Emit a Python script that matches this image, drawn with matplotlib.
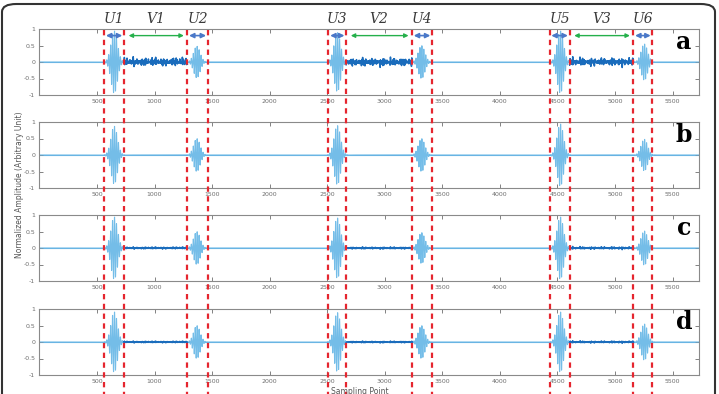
import numpy as np
import matplotlib
matplotlib.use("Agg")
import matplotlib.pyplot as plt
import matplotlib.transforms as mtransforms
from matplotlib.patches import FancyBboxPatch
from matplotlib.lines import Line2D

# ---------------- data ----------------
x_max = 5730
x_ticks = [500, 1000, 1500, 2000, 2500, 3000, 3500, 4000, 4500, 5000, 5500]
y_ticks = [-1, -0.5, 0, 0.5, 1]
y_tick_labels = ["-1", "-0.5", "0", "0.5", "1"]

u_labels = ["U1", "U2", "U3", "U4", "U5", "U6"]
u_left = [563, 1285, 2511, 3237, 4432, 5160]
u_right = [735, 1463, 2665, 3411, 4606, 5325]
v_labels = ["V1", "V2", "V3"]

burst_centers = [650, 1368, 2588, 3320, 4525, 5255]
amps_a = [0.95, 0.48, 0.9, 0.5, 0.95, 0.55]
amps_b = [0.88, 0.5, 0.9, 0.5, 0.95, 0.48]
amps_c = [0.95, 0.5, 0.92, 0.47, 0.95, 0.52]
amps_d = [0.92, 0.5, 0.9, 0.5, 0.92, 0.55]
noise_a = [0.13, 0.13, 0.12]
noise_b = [0.0, 0.0, 0.0]
noise_c = [0.03, 0.03, 0.035]
noise_d = [0.025, 0.025, 0.028]
panel_letters = ["a", "b", "c", "d"]

# ---------------- figure ----------------
fig = plt.figure(figsize=(7.19, 3.94), dpi=100)
n = np.arange(0, x_max)

light = "#74bde8"
base = "#5aa9dd"
dark = "#1a6cbc"
grey = "#6e6e6e"

left = 39.4 / 719
width = (699 - 39.4) / 719
tops = [29, 122, 215, 309]
h = 66


def make_signal(amps):
    s = np.zeros_like(n, dtype=float)
    for c, a in zip(burst_centers, amps):
        env = np.exp(-((n - c) / 40.0) ** 2)
        s += a * env * np.sin(2 * np.pi * (n - c) / 17.0 + 0.6)
    return s


def make_noise(levels):
    z = np.zeros_like(n, dtype=float)
    freqs = [0.0371, 0.0613, 0.0917, 0.1289, 0.1731, 0.2203]
    phases = [0.3, 1.7, 2.9, 0.8, 2.2, 4.1]
    tex = sum(np.sin(2 * np.pi * f * n + p) for f, p in zip(freqs, phases)) / 3.0
    slow = 0.25 + 0.75 * np.abs(np.sin(2 * np.pi * n / 173.0) * np.cos(2 * np.pi * n / 61.0))
    for k, lev in enumerate(levels):
        lo, hi = u_right[2 * k], u_left[2 * k + 1]
        m = (n >= lo) & (n <= hi)
        z[m] = lev * tex[m] * slow[m]
    return z


amps_all = [amps_a, amps_b, amps_c, amps_d]
noise_all = [noise_a, noise_b, noise_c, noise_d]
axes = []
for i in range(4):
    ax = fig.add_axes([left, 1 - (tops[i] + h) / 394, width, h / 394])
    axes.append(ax)
    sig = make_signal(amps_all[i])
    ax.plot(n, sig, color=light, lw=0.8)
    ax.axhline(0, color=base, lw=0.8, zorder=1)
    nz = make_noise(noise_all[i])
    if max(noise_all[i]) > 0:
        for k in range(3):
            lo, hi = u_right[2 * k], u_left[2 * k + 1]
            m = (n >= lo) & (n <= hi)
            ax.plot(n[m], nz[m], color=dark, lw=1.1)
    ax.set_xlim(0, x_max)
    ax.set_ylim(-1, 1)
    ax.set_xticks(x_ticks)
    ax.set_xticklabels([str(t) for t in x_ticks])
    ax.set_yticks(y_ticks)
    ax.set_yticklabels(y_tick_labels)
    ax.tick_params(direction="in", length=3, width=0.6, colors=grey,
                   labelsize=4.5, top=True, right=True, pad=3)
    for sp in ax.spines.values():
        sp.set_color("#8a8a8a")
        sp.set_linewidth(0.8)
    ax.text(5600, 0.6, panel_letters[i], fontsize=17, fontweight="bold",
            family="DejaVu Serif", ha="center", va="center", color="black")

ax0 = axes[0]
# arrows in panel a
for l, r in zip(u_left, u_right):
    ax0.annotate("", xy=(l + 15, 0.8), xytext=(r - 15, 0.8),
                 arrowprops=dict(arrowstyle="<|-|>", color="#4a78c8", lw=1.2,
                                 mutation_scale=7, shrinkA=0, shrinkB=0))
for k in range(3):
    l, r = u_right[2 * k], u_left[2 * k + 1]
    ax0.annotate("", xy=(l + 40, 0.8), xytext=(r - 30, 0.8),
                 arrowprops=dict(arrowstyle="<|-|>", color="#25b04b", lw=1.0,
                                 mutation_scale=6, shrinkA=0, shrinkB=0))

# labels above panel a
bt = mtransforms.blended_transform_factory(ax0.transData, fig.transFigure)
for lab, l, r in zip(u_labels, u_left, u_right):
    fig.text((l + r) / 2, 1 - 19 / 394, lab, transform=bt, ha="center", va="center",
             fontsize=10, style="italic", family="DejaVu Serif", color="#3a3a3a")
for k, lab in enumerate(v_labels):
    l, r = u_right[2 * k], u_left[2 * k + 1]
    fig.text((l + r) / 2, 1 - 19 / 394, lab, transform=bt, ha="center", va="center",
             fontsize=10, style="italic", family="DejaVu Serif", color="#3a3a3a")

# red dashed boundary lines spanning all panels
for xv in u_left + u_right:
    fig.add_artist(Line2D([xv, xv], [1 - 30 / 394, -0.02], transform=bt,
                          color="#e5262f", lw=1.6, linestyle=(0, (2.4, 2.0))))

fig.text(20 / 719, 0.53, "Normalized Amplitude (Arbitrary Unit)", rotation=90,
         ha="center", va="center", fontsize=5.5, color="#555555")
fig.text(0.5, 1 - 391 / 394, "Sampling Point", ha="center", va="center",
         fontsize=5.5, color="#555555")

frame = FancyBboxPatch((2 / 719, -0.1), 713 / 719, 1.1 - 4 / 394,
                       boxstyle="round,pad=0,rounding_size=0.02",
                       transform=fig.transFigure, fill=False,
                       edgecolor="#333333", lw=1.5)
fig.add_artist(frame)

fig.savefig("out.png", dpi=100)
